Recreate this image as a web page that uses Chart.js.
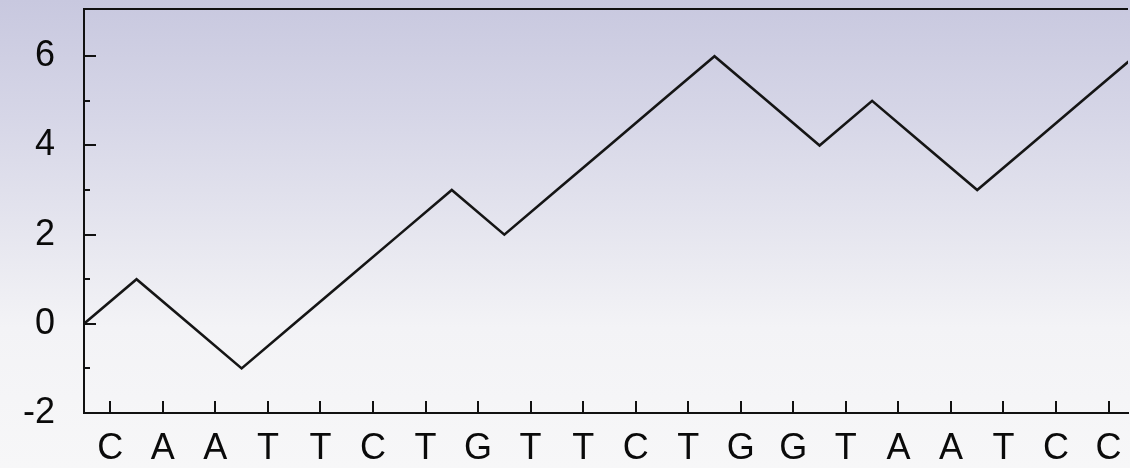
<!DOCTYPE html>
<html>
<head>
<meta charset="utf-8">
<script src="https://cdn.jsdelivr.net/npm/chart.js@4"></script>
<style>
  html, body { margin: 0; padding: 0; }
  body {
    width: 1130px; height: 468px; overflow: hidden;
    background: linear-gradient(to bottom, #c8c8df 0%, #d6d6e7 25%, #e6e6ef 50%, #f3f3f6 70%, #f7f7f8 100%);
  }
  #wrap { width: 1130px; height: 468px; }
</style>
</head>
<body>
<div id="wrap"><canvas id="c" width="1130" height="468"></canvas></div>
<script>
// Sequence letters (x-axis tick labels)
const letters = ['C','A','A','T','T','C','T','G','T','T','C','T','G','G','T','A','A','T','C','C'];
// Walk values at each step boundary (0 before the first letter)
const walkValues = [0, 1, 0, -1, 0, 1, 2, 3, 2, 3, 4, 5, 6, 5, 4, 5, 4, 3, 4, 5, 6];
// Y-axis labelled ticks
const yTickLabels = [-2, 0, 2, 4, 6];

const walkPoints = walkValues.map((v, i) => ({ x: i, y: v }));

const inwardTicks = {
  id: 'inwardTicks',
  afterDraw(chart) {
    const ctx = chart.ctx;
    const area = chart.chartArea;
    const xs = chart.scales.x, ys = chart.scales.y;
    ctx.save();
    ctx.strokeStyle = '#111';
    ctx.lineWidth = 2;
    xs.ticks.forEach(t => {
      const px = Math.round(xs.getPixelForValue(t.value));
      ctx.beginPath();
      ctx.moveTo(px, area.bottom);
      ctx.lineTo(px, area.bottom - 12);
      ctx.stroke();
    });
    ys.ticks.forEach(t => {
      const py = Math.round(ys.getPixelForValue(t.value));
      const len = yTickLabels.includes(t.value) ? 12 : 6;
      ctx.beginPath();
      ctx.moveTo(area.left, py);
      ctx.lineTo(area.left + len, py);
      ctx.stroke();
    });
    ctx.beginPath();
    ctx.moveTo(area.left - 1, area.top);
    ctx.lineTo(area.right, area.top);
    ctx.stroke();
    ctx.restore();
  }
};

new Chart(document.getElementById('c'), {
  type: 'line',
  data: {
    datasets: [{
      data: walkPoints,
      borderColor: '#151515',
      borderWidth: 2.6,
      pointRadius: 0,
      tension: 0,
      fill: false
    }]
  },
  options: {
    responsive: false,
    animation: false,
    layout: { padding: { top: 9, right: 2, left: 0, bottom: 0 } },
    plugins: { legend: { display: false }, tooltip: { enabled: false } },
    scales: {
      x: {
        type: 'linear',
        min: 0,
        max: 19.87,
        grid: { display: false, drawTicks: false },
        border: { display: true, color: '#111', width: 2 },
        afterBuildTicks: (scale) => {
          scale.ticks = letters.map((_, i) => ({ value: i + 0.5 }));
        },
        afterFit: (scale) => {
          scale.height = 55;
          scale.paddingLeft = 0; scale.paddingRight = 0;
        },
        ticks: {
          autoSkip: false,
          maxRotation: 0,
          padding: 14,
          color: '#0a0a0a',
          font: { family: 'Liberation Sans, Arial, sans-serif', size: 36 },
          callback: (value) => letters[Math.floor(value)] || ''
        }
      },
      y: {
        min: -2,
        max: 7.06,
        grid: { display: false, drawTicks: false },
        border: { display: true, color: '#111', width: 2 },
        afterBuildTicks: (scale) => {
          const t = [];
          for (let v = -2; v <= 6; v++) t.push({ value: v });
          scale.ticks = t;
        },
        afterFit: (scale) => {
          scale.width = 84;
          scale.paddingTop = 0; scale.paddingBottom = 0;
        },
        ticks: {
          padding: 29,
          color: '#0a0a0a',
          font: { family: 'Liberation Sans, Arial, sans-serif', size: 36 },
          callback: (value) => yTickLabels.includes(value) ? String(value) : ''
        }
      }
    }
  },
  plugins: [inwardTicks]
});
</script>
</body>
</html>
